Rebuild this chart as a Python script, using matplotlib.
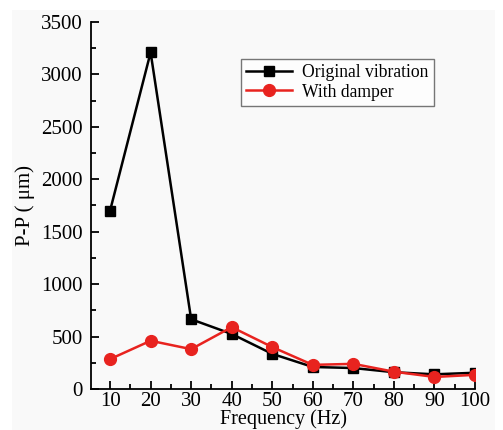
import matplotlib.pyplot as plt
from matplotlib.patches import Rectangle
from matplotlib.ticker import MultipleLocator

# data
freq = [10, 20, 30, 40, 50, 60, 70, 80, 90, 100]
original = [1700, 3210, 665, 525, 335, 210, 200, 160, 140, 155]
damper = [285, 460, 380, 590, 400, 230, 240, 165, 115, 135]

plt.rcParams['font.family'] = ['Liberation Serif', 'DejaVu Serif']

fig = plt.figure(figsize=(5.03, 4.30), dpi=100, facecolor='white')
# light grey background panel
fig.add_artist(Rectangle((12/503, 0), (495-12)/503, (430-10)/430,
                         transform=fig.transFigure, facecolor='#f9f9f9',
                         edgecolor='none', zorder=-10))
ax = fig.add_axes([91/503, 41/430, 384/503, 367/430])
ax.set_facecolor('#f9f9f9')

ax.plot(freq, original, color='black', lw=1.8, marker='s', ms=7,
        label='Original vibration')
ax.plot(freq, damper, color='#e8231f', lw=1.8, marker='o', ms=8.5,
        label='With damper')

ax.set_xlim(5.3, 100)
ax.set_ylim(0, 3500)
ax.xaxis.set_major_locator(MultipleLocator(10))
ax.xaxis.set_minor_locator(MultipleLocator(5))
ax.yaxis.set_major_locator(MultipleLocator(500))
ax.yaxis.set_minor_locator(MultipleLocator(250))
ax.tick_params(which='major', direction='in', length=6, width=1.3, labelsize=15)
ax.tick_params(which='minor', direction='in', length=3.5, width=1.3)
ax.tick_params(axis='x', which='major', pad=2)
ax.tick_params(axis='y', which='major', pad=6)

for s in ['top', 'right']:
    ax.spines[s].set_visible(False)
for s in ['left', 'bottom']:
    ax.spines[s].set_linewidth(1.3)

ax.set_xlabel('Frequency (Hz)', fontsize=14.5, labelpad=-1)
ax.set_ylabel('P-P ( μm)', fontsize=15, labelpad=4)

leg = ax.legend(loc='upper left', bbox_to_anchor=(0.39, 0.90), fontsize=12.7,
                frameon=True, fancybox=False, edgecolor='#555555',
                handlelength=2.6, borderpad=0.3, labelspacing=0.15,
                borderaxespad=0, handletextpad=0.6)
leg.get_frame().set_linewidth(1.0)
leg.get_frame().set_facecolor('white')

plt.savefig('out.png', dpi=100)
